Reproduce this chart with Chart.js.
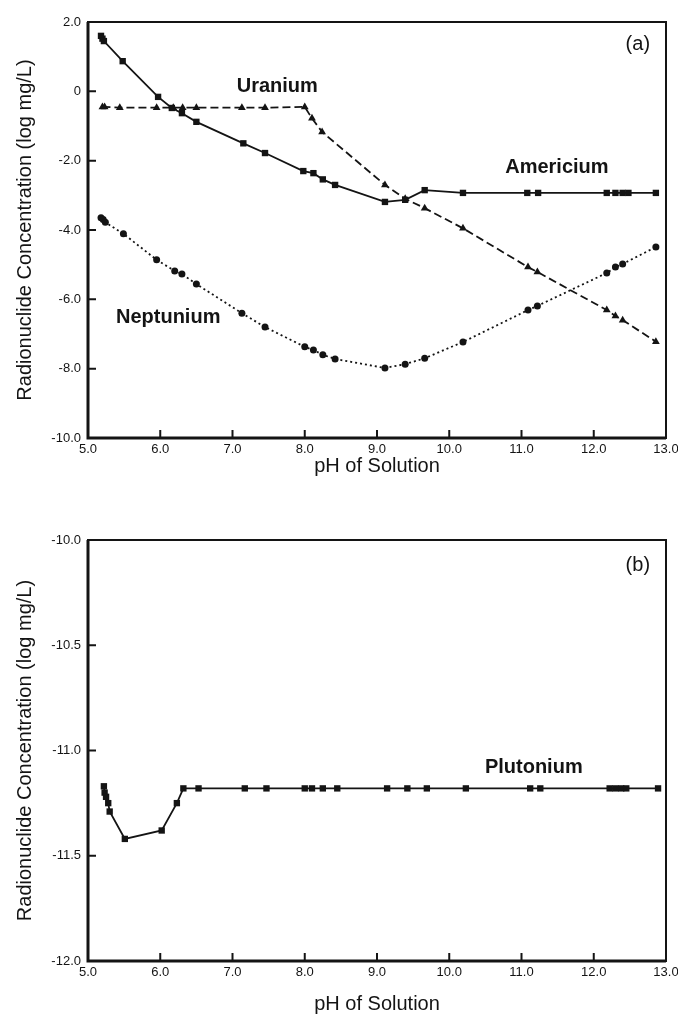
<!DOCTYPE html>
<html>
<head>
<meta charset="utf-8">
<title>Radionuclide concentration vs pH</title>
<script src="https://cdn.jsdelivr.net/npm/chart.js@4.4.1/dist/chart.umd.min.js"></script>
<style>
  html, body { margin: 0; padding: 0; background: #fff; }
  #wrap { position: relative; width: 678px; height: 1016px; }
  #chartA { position: absolute; left: 0; top: 0; }
  #chartB { position: absolute; left: 0; top: 490px; }
</style>
</head>
<body>
<div id="wrap">
  <canvas id="chartA" width="678" height="490"></canvas>
  <canvas id="chartB" width="678" height="526"></canvas>
</div>
<script>
// (a) Americium
const phAm = [5.18, 5.2, 5.22, 5.48, 5.97, 6.16, 6.3, 6.5, 7.15, 7.45, 7.98, 8.12, 8.25, 8.42, 9.11, 9.39, 9.66, 10.19, 11.08, 11.23, 12.18, 12.3, 12.4, 12.48, 12.86];
const am = [1.6, 1.52, 1.45, 0.87, -0.16, -0.48, -0.63, -0.88, -1.5, -1.78, -2.3, -2.36, -2.54, -2.7, -3.19, -3.13, -2.85, -2.93, -2.93, -2.93, -2.93, -2.93, -2.93, -2.93, -2.93];

// (a) Uranium
const phU = [5.2, 5.23, 5.44, 5.95, 6.18, 6.31, 6.5, 7.13, 7.45, 8.0, 8.1, 8.24, 9.11, 9.39, 9.66, 10.19, 11.09, 11.22, 12.18, 12.3, 12.4, 12.86];
const u = [-0.45, -0.45, -0.47, -0.47, -0.47, -0.47, -0.47, -0.47, -0.47, -0.45, -0.78, -1.17, -2.7, -3.1, -3.37, -3.95, -5.07, -5.21, -6.31, -6.48, -6.6, -7.22];

// (a) Neptunium
const phNp = [5.18, 5.21, 5.24, 5.49, 5.95, 6.2, 6.3, 6.5, 7.13, 7.45, 8.0, 8.12, 8.25, 8.42, 9.11, 9.39, 9.66, 10.19, 11.09, 11.22, 12.18, 12.3, 12.4, 12.86];
const np = [-3.65, -3.7, -3.78, -4.11, -4.86, -5.18, -5.27, -5.56, -6.4, -6.8, -7.37, -7.46, -7.6, -7.72, -7.98, -7.87, -7.7, -7.23, -6.31, -6.19, -5.24, -5.07, -4.98, -4.49];

// (b) Plutonium
const phPu = [5.22, 5.23, 5.25, 5.28, 5.3, 5.51, 6.02, 6.23, 6.32, 6.53, 7.17, 7.47, 8.0, 8.1, 8.25, 8.45, 9.14, 9.42, 9.69, 10.23, 11.12, 11.26, 12.22, 12.3, 12.38, 12.45, 12.89];
const pu = [-11.17, -11.2, -11.22, -11.25, -11.29, -11.42, -11.38, -11.25, -11.18, -11.18, -11.18, -11.18, -11.18, -11.18, -11.18, -11.18, -11.18, -11.18, -11.18, -11.18, -11.18, -11.18, -11.18, -11.18, -11.18, -11.18, -11.18];

// axis ticks
const xTicks = [5, 6, 7, 8, 9, 10, 11, 12, 13];
const yTicksA = [-10, -8, -6, -4, -2, 0, 2];
const yTicksB = [-12, -11.5, -11, -10.5, -10];

// text notes inside the plots (data coordinates)
const notesA = ['Uranium', 'Americium', 'Neptunium', '(a)'];
const notesAx = [7.62, 11.49, 6.11, 12.61];
const notesAy = [0.13, -2.21, -6.51, 1.34];
const notesB = ['Plutonium', '(b)'];
const notesBx = [11.17, 12.61];
const notesBy = [-11.08, -10.12];

const FONT = "'Liberation Sans', Arial, Helvetica, sans-serif";
const INK = '#141414';

function pts(xs, ys) {
  return xs.map((x, i) => ({ x: x, y: ys[i] }));
}

function series(label, xs, ys, style, dash, radius) {
  return {
    label: label,
    data: pts(xs, ys),
    borderColor: INK,
    backgroundColor: INK,
    borderWidth: 1.8,
    borderDash: dash,
    pointStyle: style,
    pointRadius: radius,
    pointBorderWidth: 0,
    tension: 0
  };
}

/**
 * Frame, inward ticks and text notes
 */
const framePlugin = {
  id: 'frame',
  afterDraw(chart, args, opts) {
    const { ctx, chartArea: a, scales } = chart;
    ctx.save();
    ctx.strokeStyle = INK;
    ctx.lineWidth = 2;
    ctx.beginPath();
    scales.x.ticks.forEach(t => {
      const px = scales.x.getPixelForValue(t.value);
      ctx.moveTo(px, a.bottom);
      ctx.lineTo(px, a.bottom - 8);
    });
    scales.y.ticks.forEach(t => {
      const py = scales.y.getPixelForValue(t.value);
      ctx.moveTo(a.left, py);
      ctx.lineTo(a.left + 8, py);
    });
    ctx.stroke();

    ctx.lineWidth = 2;
    ctx.strokeRect(a.left, a.top, a.right - a.left, a.bottom - a.top);
    ctx.lineWidth = 3;
    ctx.beginPath();
    ctx.moveTo(a.left, a.top);
    ctx.lineTo(a.left, a.bottom);
    ctx.lineTo(a.right, a.bottom);
    ctx.stroke();

    ctx.fillStyle = INK;
    ctx.textAlign = 'center';
    ctx.textBaseline = 'middle';
    opts.text.forEach((txt, i) => {
      ctx.font = (txt.charAt(0) === '(' ? 'normal 20px ' : 'bold 20px ') + FONT;
      ctx.fillText(txt, scales.x.getPixelForValue(opts.xs[i]), scales.y.getPixelForValue(opts.ys[i]));
    });
    ctx.restore();
  }
};

function makeChart(id, datasets, yTicks, padTop, xHeight, titlePad, notes, nx, ny, yFmt) {
  return new Chart(document.getElementById(id), {
    type: 'line',
    data: { datasets: datasets },
    options: {
      responsive: false,
      animation: false,
      layout: { padding: { left: 0, right: 12, top: padTop, bottom: 0 } },
      plugins: {
        legend: { display: false },
        tooltip: { enabled: false },
        frame: { text: notes, xs: nx, ys: ny }
      },
      scales: {
        x: {
          type: 'linear',
          min: xTicks[0],
          max: xTicks[xTicks.length - 1],
          afterBuildTicks: s => { s.ticks = xTicks.map(v => ({ value: v })); },
          afterFit: s => {
            s.height = xHeight;
            s.paddingLeft = 0;
            s.paddingRight = 0;
          },
          grid: { display: false, drawTicks: false },
          border: { display: false },
          ticks: {
            padding: 4,
            color: INK,
            font: { family: FONT, size: 13 },
            maxRotation: 0,
            callback: v => v.toFixed(1)
          },
          title: {
            display: true,
            text: 'pH of Solution',
            color: INK,
            font: { family: FONT, size: 20 },
            padding: { top: 0, bottom: titlePad }
          }
        },
        y: {
          type: 'linear',
          min: yTicks[0],
          max: yTicks[yTicks.length - 1],
          afterBuildTicks: s => { s.ticks = yTicks.map(v => ({ value: v })); },
          afterFit: s => {
            s.width = 88;
            s.paddingTop = 0;
            s.paddingBottom = 0;
          },
          grid: { display: false, drawTicks: false },
          border: { display: false },
          ticks: {
            padding: 7,
            color: INK,
            font: { family: FONT, size: 13 },
            callback: yFmt
          },
          title: {
            display: true,
            text: 'Radionuclide Concentration (log mg/L)',
            color: INK,
            font: { family: FONT, size: 20 },
            padding: { top: 13, bottom: 0 }
          }
        }
      }
    },
    plugins: [framePlugin]
  });
}

const chartA = makeChart('chartA', [
  series('Americium', phAm, am, 'rect', [], 4.5),
  series('Uranium', phU, u, 'triangle', [8, 4], 4.5),
  series('Neptunium', phNp, np, 'circle', [2, 3], 3.5)
], yTicksA, 22, 52, 12, notesA, notesAx, notesAy, v => v === 0 ? '0' : v.toFixed(1));

const chartB = makeChart('chartB', [
  series('Plutonium', phPu, pu, 'rect', [], 4.5)
], yTicksB, 50, 55, 0, notesB, notesBx, notesBy, v => v.toFixed(1));
</script>
</body>
</html>
